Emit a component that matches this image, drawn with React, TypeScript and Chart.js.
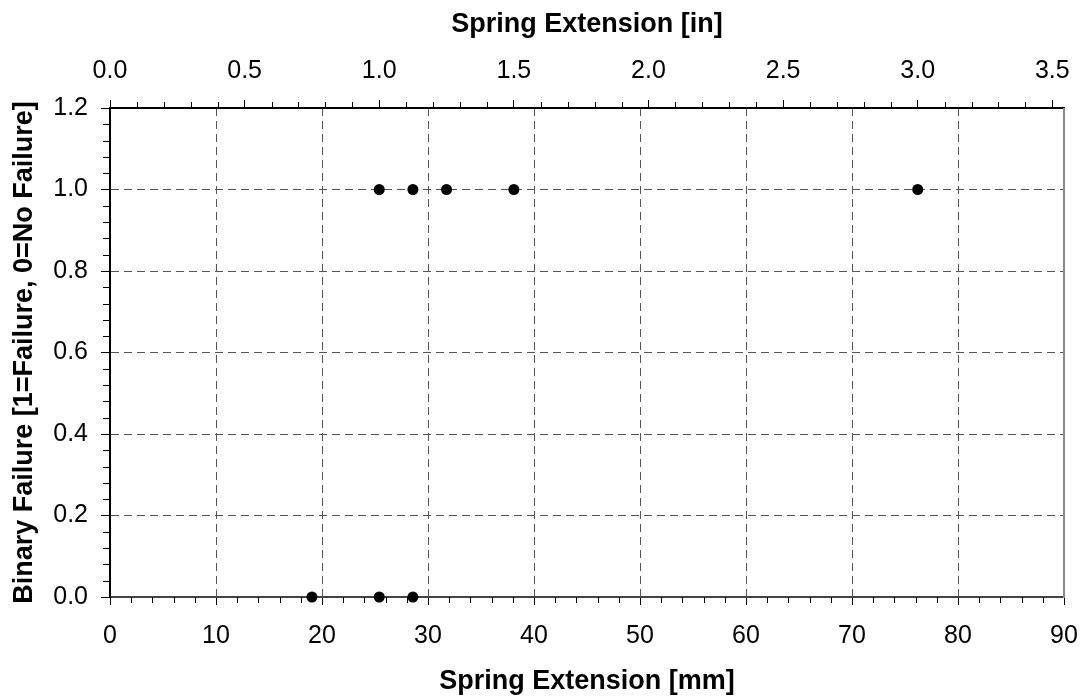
import React, { useEffect, useRef } from 'react';
import { Chart, registerables } from 'chart.js';

Chart.register(...registerables);

// ---- Data ----
const extensionMm = [19.05, 25.4, 28.575, 25.4, 28.575, 31.75, 38.1, 76.2];
const binaryFailure = [0, 0, 0, 1, 1, 1, 1, 1];

// ---- Axis ticks ----
const mmTicks = [0, 10, 20, 30, 40, 50, 60, 70, 80, 90];
const inTicks = [0, 0.5, 1.0, 1.5, 2.0, 2.5, 3.0, 3.5];
const failureTicks = [0, 0.2, 0.4, 0.6, 0.8, 1.0, 1.2];
const MM_PER_IN = 25.4;
const MM_MAX = 90;
const mmMinorStep = 2;
const inMinorStep = 0.1;
const failureMinorStep = 0.04;

const FONT = "'Liberation Sans', Arial, Helvetica, sans-serif";
const GRID_COLOR = '#555555';
const TICK_SIZE = 25;
const TITLE_SIZE = 27;

const minorTicksPlugin = {
  id: 'minorTicks',
  afterDraw(chart: any) {
    const { ctx, chartArea, scales } = chart;
    const { left, right, top, bottom } = chartArea;
    ctx.save();
    ctx.strokeStyle = '#000';
    ctx.lineWidth = 1;
    const line = (x1: number, y1: number, x2: number, y2: number) => {
      ctx.beginPath();
      ctx.moveTo(x1, y1);
      ctx.lineTo(x2, y2);
      ctx.stroke();
    };
    const xs = scales.x;
    for (let i = 0; i * mmMinorStep <= xs.max + 1e-9; i++) {
      if (i % 5 === 0) continue;
      const px = Math.round(xs.getPixelForValue(i * mmMinorStep)) + 0.5;
      line(px, bottom, px, bottom + 6);
    }
    const xt = scales.x2;
    for (let i = 0; i * inMinorStep <= xt.max + 1e-9; i++) {
      if (i % 5 === 0) continue;
      const px = Math.round(xt.getPixelForValue(i * inMinorStep)) + 0.5;
      line(px, top, px, top - 6);
    }
    const ys = scales.y;
    for (let i = 0; i * failureMinorStep <= ys.max + 1e-9; i++) {
      if (i % 5 === 0) continue;
      const py = Math.round(ys.getPixelForValue(i * failureMinorStep)) + 0.5;
      line(left, py, left - 7, py);
    }
    ctx.strokeStyle = '#8a8a8a';
    ctx.lineWidth = 2;
    line(right, top, right, bottom + 1);
    ctx.restore();
  },
};

export default function App() {
  const canvasRef = useRef<HTMLCanvasElement | null>(null);

  useEffect(() => {
    if (!canvasRef.current) return;
    const points = extensionMm.map((x, i) => ({ x, y: binaryFailure[i] }));
    const chart = new Chart(canvasRef.current, {
      type: 'scatter',
      data: {
        datasets: [
          {
            data: points,
            xAxisID: 'x',
            yAxisID: 'y',
            pointRadius: 5.5,
            pointHoverRadius: 5.5,
            pointBackgroundColor: '#000',
            pointBorderColor: '#000',
            pointBorderWidth: 0,
            showLine: false,
            clip: false as any,
          },
        ],
      },
      options: {
        responsive: false,
        animation: false,
        layout: { padding: { left: 0, right: 23, top: 0, bottom: 0 } },
        plugins: {
          legend: { display: false },
          tooltip: { enabled: false },
        },
        scales: {
          x: {
            type: 'linear',
            position: 'bottom',
            min: 0,
            max: MM_MAX,
            afterBuildTicks: (s: any) => {
              s.ticks = mmTicks.map((v) => ({ value: v }));
            },
            afterFit: (s: any) => {
              s.height = 103;
              s.paddingLeft = 0;
              s.paddingRight = 0;
            },
            ticks: {
              color: '#000',
              font: { family: FONT, size: TICK_SIZE },
              padding: 16,
              maxRotation: 0,
              autoSkip: false,
              callback: (v: any) => String(v),
            },
            grid: {
              color: (c: any) =>
                c.tick && (c.tick.value === 0 || c.tick.value === MM_MAX) ? 'rgba(0,0,0,0)' : GRID_COLOR,
              lineWidth: 1,
              drawTicks: true,
              tickLength: 8,
              tickColor: '#000',
              tickWidth: 1,
            },
            border: { display: true, color: '#444', width: 2, dash: [8, 5] },
            title: {
              display: true,
              text: 'Spring Extension [mm]',
              color: '#000',
              font: { family: FONT, size: TITLE_SIZE, weight: 'bold' },
              padding: { top: 2, bottom: 2 },
            },
          },
          x2: {
            type: 'linear',
            axis: 'x',
            position: 'top',
            min: 0,
            max: MM_MAX / MM_PER_IN,
            afterBuildTicks: (s: any) => {
              s.ticks = inTicks.map((v) => ({ value: v }));
            },
            afterFit: (s: any) => {
              s.height = 108;
              s.paddingLeft = 0;
              s.paddingRight = 0;
            },
            ticks: {
              color: '#000',
              font: { family: FONT, size: TICK_SIZE },
              padding: 14,
              maxRotation: 0,
              autoSkip: false,
              callback: (v: any) => Number(v).toFixed(1),
            },
            grid: {
              drawOnChartArea: false,
              drawTicks: true,
              tickLength: 8,
              tickColor: '#000',
              tickWidth: 1,
            },
            border: { display: true, color: '#000', width: 2 },
            title: {
              display: true,
              text: 'Spring Extension [in]',
              color: '#000',
              font: { family: FONT, size: TITLE_SIZE, weight: 'bold' },
              padding: { top: 8, bottom: 8 },
            },
          } as any,
          y: {
            type: 'linear',
            position: 'left',
            min: 0,
            max: 1.2,
            afterBuildTicks: (s: any) => {
              s.ticks = failureTicks.map((v) => ({ value: v }));
            },
            afterFit: (s: any) => {
              s.width = 110;
              s.paddingTop = 0;
              s.paddingBottom = 0;
            },
            ticks: {
              color: '#000',
              font: { family: FONT, size: TICK_SIZE },
              padding: 13,
              autoSkip: false,
              callback: (v: any) => Number(v).toFixed(1),
            },
            grid: {
              color: (c: any) =>
                c.tick && (Math.abs(c.tick.value) < 1e-9 || Math.abs(c.tick.value - 1.2) < 1e-9)
                  ? 'rgba(0,0,0,0)'
                  : GRID_COLOR,
              lineWidth: 1,
              drawTicks: true,
              tickLength: 9,
              tickColor: '#000',
              tickWidth: 1,
            },
            border: { display: true, color: '#000', width: 2, dash: [8, 5] },
            title: {
              display: true,
              text: 'Binary Failure [1=Failure, 0=No Failure]',
              color: '#000',
              font: { family: FONT, size: TITLE_SIZE, weight: 'bold' },
              padding: { top: 8, bottom: 8 },
            },
          },
        },
      } as any,
      plugins: [minorTicksPlugin],
    });
    return () => chart.destroy();
  }, []);

  return (
    <div style={{ position: 'fixed', left: 0, top: 0, width: 1087, height: 700, background: '#fff' }}>
      <canvas ref={canvasRef} width={1087} height={700} style={{ display: 'block' }} />
    </div>
  );
}
